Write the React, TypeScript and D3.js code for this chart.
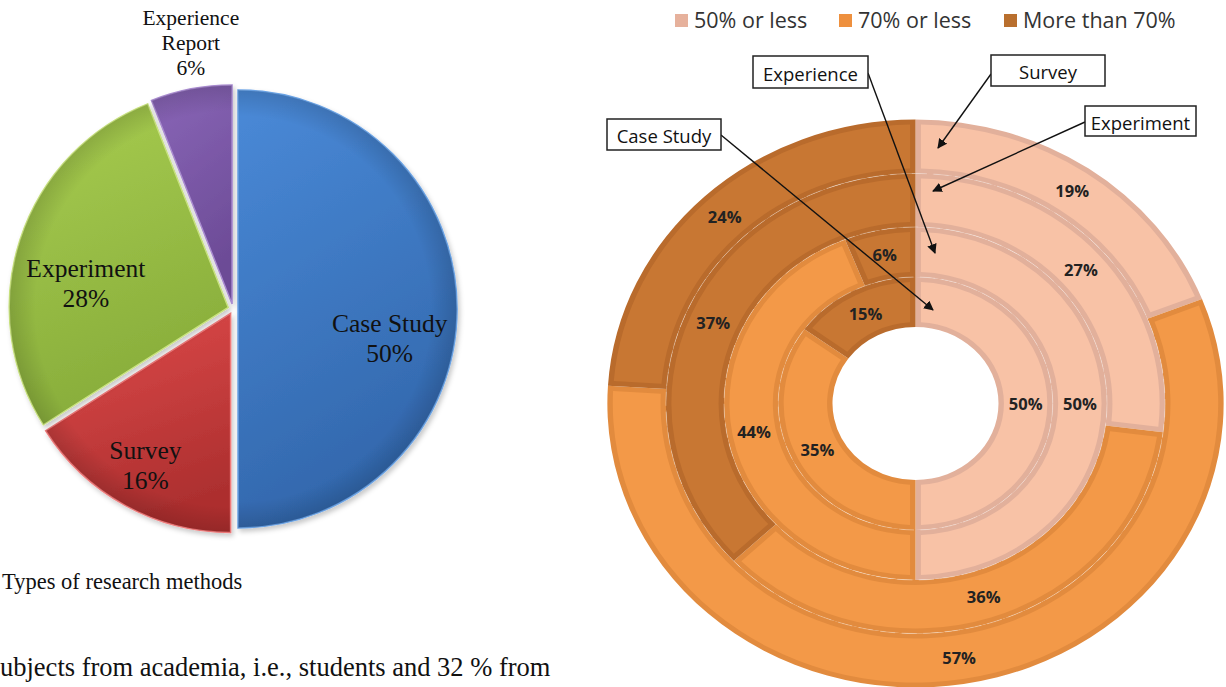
import React from "react";
import * as d3 from "d3";

// ---------- data ----------
const pieCategories = ["Case Study", "Survey", "Experiment", "Experience Report"];
const pieValues = [50, 16, 28, 6];
const pieLabelLines = [["Case Study", "50%"], ["Survey", "16%"], ["Experiment", "28%"], ["Experience", "Report", "6%"]];

const levelNames = ["50% or less", "70% or less", "More than 70%"];
const ringNames = ["Survey", "Experiment", "Experience", "Case Study"]; // outer -> inner
const surveyValues = [19, 57, 24];
const experimentValues = [27, 36, 37];
const experienceValues = [50, 44, 6];
const caseStudyValues = [50, 35, 15];

const captionText = "Types of research methods";
const bodyText = "ubjects from academia, i.e., students and 32 % from";

// ---------- styles ----------
const pieColors = [
  ["#4a8ad8", "#3267ac", "#6aa3e6"],
  ["#e04c4c", "#ad2f2f", "#f07a7a"],
  ["#a8cd50", "#88ad3b", "#c8e27e"],
  ["#8a66b8", "#6c4b96", "#a98bd0"],
];
const levelFill = ["#f8c2a6", "#f39948", "#c87733"];
const levelBorder = ["#e2b09b", "#e28b3e", "#b96b2c"];
const legendSwatch = ["#e6b19c", "#ee903e", "#b96f2e"];

export default function App() {
  // ----- left pie -----
  const PIE_CX = 233, PIE_CY = 309, PIE_R = 219, EXPLODE = 5;
  const pieGen = d3.pie<number>().sort(null).value((d) => d);
  const pieSlices = pieGen(pieValues);
  const pieArc = d3.arc<d3.PieArcDatum<number>>().innerRadius(0).outerRadius(PIE_R);
  const labelRadiusFactor = [0.73, 0.83, 0.68, 1.22];
  const labelAngleShift = [0.2, 0, -0.16, 0.03];
  const labelFont = [25.5, 25.5, 25.5, 21.5];
  const labelLH = [30, 30, 30, 25];

  // ----- right nested donut -----
  const DCX = 915.5, DCY = 403.5, SX = 1.085;
  const radii = [284, 230, 176.5, 126.5, 76.5];
  const rings = [surveyValues, experimentValues, experienceValues, caseStudyValues];
  const ringPie = d3.pie<number>().sort(null).value((d) => d);
  const BORDER = 5;

  const donutSegments: any[] = [];
  rings.forEach((vals, ri) => {
    const r1 = radii[ri], r0 = radii[ri + 1];
    ringPie(vals).forEach((s, li) => {
      const outer = d3.arc<any>().innerRadius(r0).outerRadius(r1)(s) as string;
      const inner = d3
        .arc<any>()
        .innerRadius(r0 + BORDER)
        .outerRadius(r1 - BORDER)
        .padAngle((2 * BORDER) / ((r0 + r1) / 2))
        .padRadius((r0 + r1) / 2)(s) as string;
      const c = d3.arc<any>().innerRadius(r0).outerRadius(r1).centroid(s);
      donutSegments.push({ ri, li, outer, inner, cx: c[0] * SX, cy: c[1], value: vals[li] });
    });
  });

  const legendX = [675, 839, 1004];
  const callouts = [
    { name: ringNames[2], x: 753, y: 56, w: 115, h: 32, from: [868, 73], to: [935, 253] },
    { name: ringNames[0], x: 991, y: 55, w: 114, h: 31, from: [991, 74], to: [938, 148] },
    { name: ringNames[1], x: 1085, y: 106, w: 111, h: 30, from: [1085, 122], to: [933, 191] },
    { name: ringNames[3], x: 607, y: 119, w: 114, h: 31, from: [721, 135], to: [933, 310] },
  ];

  return (
    <svg width={1226} height={687} style={{ position: "absolute", left: 0, top: 0, background: "#fff" }}>
      <defs>
        {pieColors.map((c, i) => (
          <linearGradient key={i} id={`pg${i}`} x1="0" y1="0" x2="0.3" y2="1">
            <stop offset="0" stopColor={c[0]} />
            <stop offset="1" stopColor={c[1]} />
          </linearGradient>
        ))}
        <radialGradient id="rim" cx="0.5" cy="0.5" r="0.5">
          <stop offset="0.88" stopColor="#000" stopOpacity="0" />
          <stop offset="1" stopColor="#000" stopOpacity="0.14" />
        </radialGradient>
        <filter id="sh" x="-10%" y="-10%" width="120%" height="120%">
          <feDropShadow dx="2" dy="3" stdDeviation="2.5" floodColor="#000" floodOpacity="0.22" />
        </filter>
        <marker id="arr" viewBox="0 0 10 10" refX="9" refY="5" markerWidth="7" markerHeight="7" orient="auto-start-reverse">
          <path d="M0,0 L10,5 L0,10 z" fill="#111" />
        </marker>
        {pieSlices.map((s, i) => (
          <clipPath key={i} id={`pc${i}`}>
            <path d={pieArc(s) as string} />
          </clipPath>
        ))}
      </defs>

      {/* ---------- left pie ---------- */}
      <g>
        {pieSlices.map((s, i) => {
          const mid = (s.startAngle + s.endAngle) / 2;
          const ox = PIE_CX + EXPLODE * Math.sin(mid);
          const oy = PIE_CY - EXPLODE * Math.cos(mid);
          return (
            <g key={pieCategories[i]} transform={`translate(${ox},${oy})`}>
              <path d={pieArc(s) as string} fill={`url(#pg${i})`} stroke={pieColors[i][2]} strokeWidth={1.5} filter="url(#sh)" />
              <circle r={PIE_R} fill="url(#rim)" clipPath={`url(#pc${i})`} />
            </g>
          );
        })}
        {pieSlices.map((s, i) => {
          const a = (s.startAngle + s.endAngle) / 2 + labelAngleShift[i];
          const r = PIE_R * labelRadiusFactor[i];
          const x = PIE_CX + r * Math.sin(a);
          const y = PIE_CY - r * Math.cos(a);
          const lines = pieLabelLines[i];
          const h = labelLH[i] * (lines.length - 1);
          return (
            <text key={i} x={x} y={y - h / 2} textAnchor="middle" dominantBaseline="middle"
              fontFamily="'Liberation Serif', 'Times New Roman', serif" fontSize={labelFont[i]} fill="#111">
              {lines.map((l, k) => (
                <tspan key={k} x={x} dy={k === 0 ? 0 : labelLH[i]}>{l}</tspan>
              ))}
            </text>
          );
        })}
        <text x={2} y={589} fontFamily="'Liberation Serif', 'Times New Roman', serif" fontSize={22.5} fill="#111">{captionText}</text>
        <text x={0} y={676} fontFamily="'Liberation Serif', 'Times New Roman', serif" fontSize={26.5} fill="#111">{bodyText}</text>
      </g>

      {/* ---------- right donut ---------- */}
      <g transform={`translate(${DCX},${DCY})`}>
        <g transform={`scale(${SX},1)`}>
          {donutSegments.map((d, i) => (
            <g key={i}>
              <path d={d.outer} fill={levelBorder[d.li]} />
              <path d={d.inner} fill={levelFill[d.li]} />
            </g>
          ))}
          {radii.slice(1, 4).map((r, i) => (
            <circle key={i} r={r} fill="none" stroke="#fff" strokeOpacity={0.35} strokeWidth={0.8} strokeDasharray="14 6" />
          ))}
        </g>
        {donutSegments.map((d, i) => (
          <text key={i} x={d.cx} y={d.cy} textAnchor="middle" dominantBaseline="central"
            fontFamily="'Open Sans', sans-serif" fontWeight={700} fontSize={16.5} fill="#222">
            {d.value}%
          </text>
        ))}
      </g>

      {/* legend */}
      {levelNames.map((n, i) => (
        <g key={n}>
          <rect x={legendX[i]} y={14} width={13} height={13} fill={legendSwatch[i]} />
          <text x={legendX[i] + 19} y={28} fontFamily="'Open Sans', sans-serif" fontSize={21.5} fill="#333">{n}</text>
        </g>
      ))}

      {/* callouts */}
      {callouts.map((c) => (
        <g key={c.name}>
          <line x1={c.from[0]} y1={c.from[1]} x2={c.to[0]} y2={c.to[1]} stroke="#111" strokeWidth={1.4} markerEnd="url(#arr)" />
          <rect x={c.x} y={c.y} width={c.w} height={c.h} fill="#fff" stroke="#222" strokeWidth={1.5} />
          <text x={c.x + c.w / 2} y={c.y + c.h / 2 + 1} textAnchor="middle" dominantBaseline="central"
            fontFamily="'Open Sans', sans-serif" fontSize={18.5} fill="#111">{c.name}</text>
        </g>
      ))}
    </svg>
  );
}
